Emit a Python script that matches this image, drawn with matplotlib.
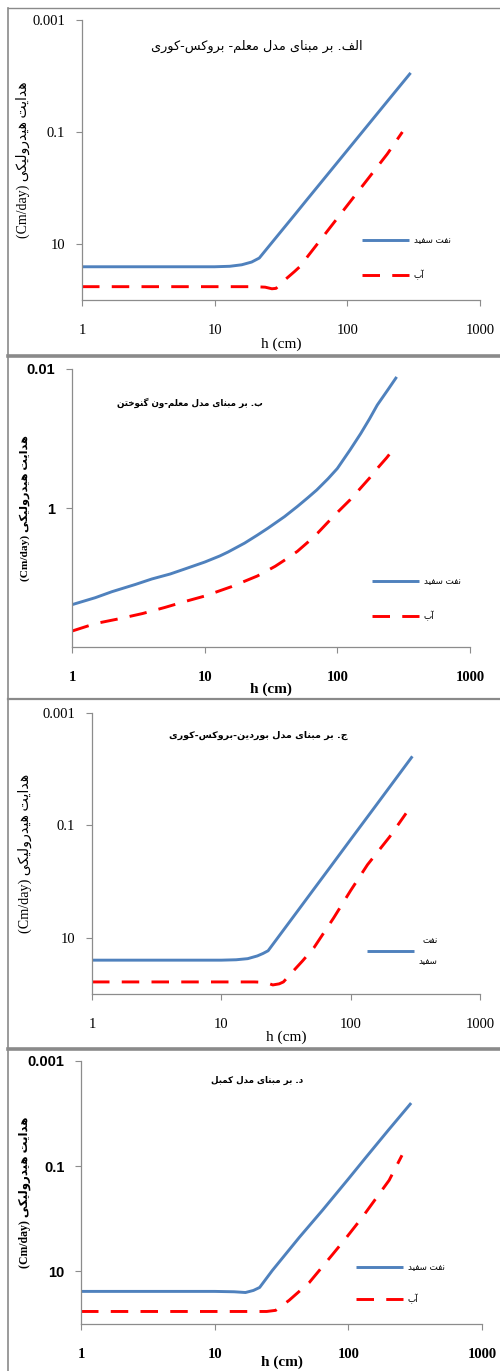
import matplotlib
matplotlib.use('Agg')
import matplotlib.pyplot as plt
from matplotlib.lines import Line2D

# ---- data (h in cm, K in cm/day) ----
# panel a: Mualem - Brooks-Corey
h1_oil = [1, 2, 4, 7, 10, 13, 16, 19, 21.7, 25, 30, 40, 50, 70, 100, 150, 200, 300]
k1_oil = [25.5, 25.5, 25.5, 25.5, 25.5, 25, 23.5, 21, 17.8, 11.8, 6.96, 3.03, 1.58, 0.596, 0.212, 0.0654, 0.0284, 0.0088]
h1_wat = [1, 2, 4, 7, 10, 15, 20, 24, 27, 29, 33, 40, 43.6, 50, 70, 100, 150, 200, 260]
k1_wat = [57.8, 57.8, 57.8, 57.8, 57.8, 57.8, 57.8, 59, 63, 62, 46, 31, 25.7, 16.9, 6.06, 2.04, 0.594, 0.247, 0.1]

# panel b: Mualem - van Genuchten
h2_oil = [1, 1.5, 2, 3, 4, 5.5, 7, 10, 13, 15, 20, 25, 30, 40, 50, 60, 70, 85, 100, 125, 150, 175, 200, 240, 280]
k2_oil = [24.6, 19.5, 16, 12.6, 10.5, 8.9, 7.6, 6.0, 4.9, 4.3, 3.2, 2.45, 1.95, 1.33, 0.95, 0.71, 0.55, 0.38, 0.27, 0.145, 0.085, 0.052, 0.033, 0.02, 0.013]
h2_wat = [1, 1.5, 2.3, 3.4, 5, 7.2, 10, 16, 25, 34, 42, 50, 60, 71, 85, 100, 125, 148, 175, 200, 235, 267]
k2_wat = [59, 46, 39, 33, 27, 22, 18.5, 13.5, 9.5, 6.9, 5.3, 4.2, 3.1, 2.3, 1.6, 1.16, 0.76, 0.53, 0.37, 0.27, 0.19, 0.14]

# panel c: Burdine - Brooks-Corey
h3_oil = [1, 2, 4, 7, 10, 13, 16, 19, 21, 23, 30, 40, 50, 70, 100, 150, 200, 300]
k3_oil = [25, 25, 25, 25, 25, 24.6, 23.5, 21, 19, 17, 7.46, 3.06, 1.53, 0.54, 0.178, 0.0508, 0.0208, 0.0059]
h3_wat = [1, 3, 7, 12, 18, 22, 25, 28, 30.2, 36, 42.5, 52, 74, 100, 135, 200, 268]
k3_wat = [61, 61, 61, 61, 61, 62, 69, 66, 61, 39, 25.7, 15, 4.4, 1.44, 0.5, 0.16, 0.061]

# panel d: Campbell
h4_oil = [1, 2, 4, 7, 10, 14, 17, 19.5, 21.7, 27, 43, 64, 100, 136, 200, 295]
k4_oil = [24, 24, 24, 24, 24, 24.4, 25.2, 23, 20.2, 9.6, 2.25, 0.69, 0.175, 0.067, 0.0204, 0.0063]
h4_wat = [1, 3, 7, 12, 18, 24.5, 28.6, 36, 51, 76, 97, 127, 202, 252]
k4_wat = [57.8, 57.8, 57.8, 57.8, 57.8, 57.8, 55, 35.6, 16.3, 4.8, 2.25, 0.94, 0.185, 0.062]

xticks = [1, 10, 100, 1000]

# ---- persian text shaping (matplotlib has no shaping/bidi) ----
FORMS = {
    'ا': ('\uFE8D', '\uFE8E'), 'آ': ('\uFE81', '\uFE82'),
    'د': ('\uFEA9', '\uFEAA'), 'ر': ('\uFEAD', '\uFEAE'), 'و': ('\uFEED', '\uFEEE'),
    'ب': ('\uFE8F', '\uFE90', '\uFE91', '\uFE92'),
    'ت': ('\uFE95', '\uFE96', '\uFE97', '\uFE98'),
    'ج': ('\uFE9D', '\uFE9E', '\uFE9F', '\uFEA0'),
    'خ': ('\uFEA5', '\uFEA6', '\uFEA7', '\uFEA8'),
    'س': ('\uFEB1', '\uFEB2', '\uFEB3', '\uFEB4'),
    'ع': ('\uFEC9', '\uFECA', '\uFECB', '\uFECC'),
    'ف': ('\uFED1', '\uFED2', '\uFED3', '\uFED4'),
    'ل': ('\uFEDD', '\uFEDE', '\uFEDF', '\uFEE0'),
    'م': ('\uFEE1', '\uFEE2', '\uFEE3', '\uFEE4'),
    'ن': ('\uFEE5', '\uFEE6', '\uFEE7', '\uFEE8'),
    'ه': ('\uFEE9', '\uFEEA', '\uFEEB', '\uFEEC'),
    'ی': ('\uFBFC', '\uFBFD', '\uFBFE', '\uFBFF'),
    'ک': ('\uFB8E', '\uFB8F', '\uFB90', '\uFB91'),
    'گ': ('\uFB92', '\uFB93', '\uFB94', '\uFB95'),
}


def fa(text):
    out = []
    for i, ch in enumerate(text):
        if ch not in FORMS:
            out.append(ch)
            continue
        f = FORMS[ch]
        prev = text[i - 1] if i > 0 else ''
        nxt = text[i + 1] if i + 1 < len(text) else ''
        jp = prev in FORMS and len(FORMS[prev]) == 4
        jn = len(f) == 4 and nxt in FORMS
        if jp and jn:
            out.append(f[3])
        elif jp:
            out.append(f[1])
        elif jn:
            out.append(f[2])
        else:
            out.append(f[0])
    return ''.join(reversed(out))


titles = ['الف. بر مبنای مدل معلم- بروکس-کوری',
          'ب. بر مبنای مدل معلم-ون گنوختن',
          'ج. بر مبنای مدل بوردین-بروکس-کوری',
          'د. بر مبنای مدل کمبل']
ylab = '(Cm/day) ' + fa('هدایت هیدرولیکی')
oil_lab = fa('نفت سفید')
wat_lab = fa('آب')

W, H = 500, 1371
fig = plt.figure(figsize=(W / 100, H / 100), dpi=100)


def box(l, t, r, b):
    return [l / W, 1 - b / H, (r - l) / W, (b - t) / H]


SERIF = ['Liberation Serif', 'DejaVu Sans']
SANS = ['Liberation Sans', 'DejaVu Sans']
BLUE = '#4F81BD'
RED = '#FF0000'

panels = [
    dict(pos=(82, 20, 480, 300), ylim=(100, 0.001), yt=[0.001, 0.1, 10], ytl=['0.001', '0.1', '10'],
         oil=(h1_oil, k1_oil), wat=(h1_wat, k1_wat), wt='normal', twt='normal', title_xy=(257, 46), tsize=9.3,
         leg=(362, 242, 35), two=True, yfam=SERIF, ylx=23, xly=344, ysz=10),
    dict(pos=(72, 369, 470, 647), ylim=(100, 0.01), yt=[0.01, 1], ytl=['0.01', '1'],
         oil=(h2_oil, k2_oil), wat=(h2_wat, k2_wat), wt='bold', twt='bold', title_xy=(190, 403), tsize=6.3,
         leg=(372, 583, 35), two=True, yfam=SANS, ylx=25, xly=689, ysz=8.2),
    dict(pos=(92, 713, 480, 994), ylim=(100, 0.001), yt=[0.001, 0.1, 10], ytl=['0.001', '0.1', '10'],
         oil=(h3_oil, k3_oil), wat=(h3_wat, k3_wat), wt='normal', twt='bold', title_xy=(258, 735), tsize=6.8,
         leg=(367, 942, 29), two=False, yfam=SERIF, ylx=25, xly=1037, ysz=10.2),
    dict(pos=(81, 1061, 482, 1324), ylim=(100, 0.001), yt=[0.001, 0.1, 10], ytl=['0.001', '0.1', '10'],
         oil=(h4_oil, k4_oil), wat=(h4_wat, k4_wat), wt='bold', twt='bold', title_xy=(257, 1080), tsize=6.3,
         leg=(356, 1269, 32), two=True, yfam=SANS, ylx=25, xly=1362, ysz=8.5),
]

LEG_FS = 6.3
for i, p in enumerate(panels):
    l, t, r, b = p['pos']
    ax = fig.add_axes(box(l, t, r, b))
    lo, = ax.plot(p['oil'][0], p['oil'][1], color=BLUE, lw=2.1, solid_capstyle='butt')
    lw_, = ax.plot(p['wat'][0], p['wat'][1], color=RED, lw=2.1, linestyle=(0, (6, 4.2)))
    ax.set_xscale('log')
    ax.set_yscale('log')
    ax.set_xlim(1, 1000)
    ax.set_ylim(*p['ylim'])
    ax.set_xticks(xticks)
    ax.set_xticklabels([str(v) for v in xticks])
    ax.set_yticks(p['yt'])
    ax.set_yticklabels(p['ytl'])
    ax.minorticks_off()
    for s in ['top', 'right']:
        ax.spines[s].set_visible(False)
    for s in ['left', 'bottom']:
        ax.spines[s].set_color('#8c8c8c')
        ax.spines[s].set_linewidth(0.9)
    ax.tick_params(axis='x', length=4, width=0.8, color='#8c8c8c', pad=13, labelsize=10.5)
    ax.tick_params(axis='y', length=4, width=0.8, color='#8c8c8c', pad=8, labelsize=10.5)
    wt = p['wt']
    for tl in ax.get_xticklabels():
        tl.set_fontfamily(SERIF)
        tl.set_fontweight(wt)
    for tl in ax.get_yticklabels():
        tl.set_fontfamily(p['yfam'])
        tl.set_fontweight(wt)

    # axis titles at the reference's places
    ax.set_xlabel('h (cm)', family=SERIF, fontsize=11, fontweight=wt, va='center')
    ax.xaxis.set_label_coords(0.5, (b - p['xly']) / (b - t))
    ax.set_ylabel(ylab, family=SERIF, fontsize=p['ysz'], fontweight=wt, va='center')
    ax.yaxis.set_label_coords((p['ylx'] - l) / (r - l), 0.5)

    tx, ty = p['title_xy']
    fig.text(tx / W, 1 - ty / H, fa(titles[i]), family=['DejaVu Sans'], fontsize=p['tsize'],
             fontweight=p['twt'], ha='center', va='center')

    lx, ly, gap = p['leg']
    if p['two']:
        handles, labels = [lo, lw_], [oil_lab, wat_lab]
        ls = (gap / 1.389 - 1.2 * LEG_FS) / LEG_FS
    else:
        handles, labels = [lo], [fa('نفت') + '\n\n' + fa('سفید')]
        ls = 0.5
    leg = ax.legend(handles, labels, loc='upper left', bbox_to_anchor=(lx / W, 1 - (ly - 6) / H),
                    bbox_transform=fig.transFigure, frameon=False, handlelength=5.4,
                    labelspacing=ls, handletextpad=0.5, borderpad=0, borderaxespad=0,
                    prop={'family': 'DejaVu Sans', 'size': LEG_FS})
    for tx_ in leg.get_texts():
        tx_.set_multialignment('right')

# chart frames
gray = '#8a8a8a'
fig.add_artist(Line2D([8 / W, 8 / W], [0, 1 - 8 / H], color=gray, lw=1.2, transform=fig.transFigure))
fig.add_artist(Line2D([8 / W, 1], [1 - 8 / H, 1 - 8 / H], color=gray, lw=1.0, transform=fig.transFigure))
for y, lw in [(356, 2.6), (699, 1.6), (1049, 2.6)]:
    fig.add_artist(Line2D([8 / W, 1], [1 - y / H, 1 - y / H], color=gray, lw=lw, transform=fig.transFigure))

fig.savefig('out.png', dpi=100)
